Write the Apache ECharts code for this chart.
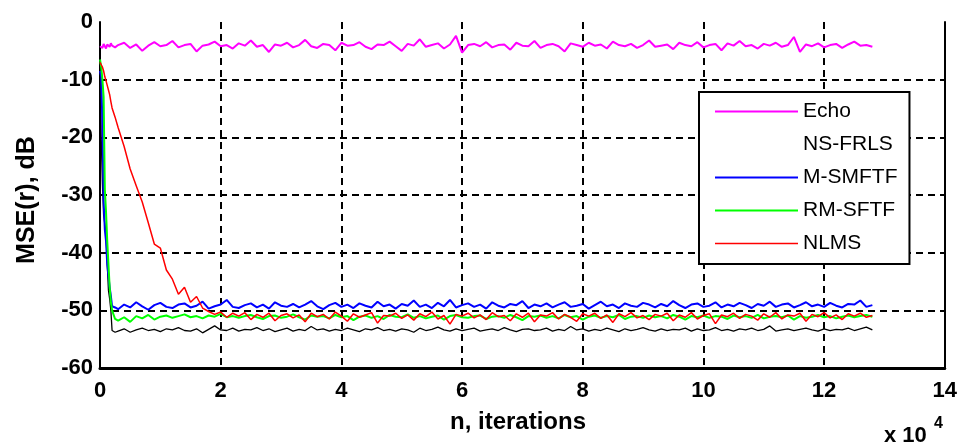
<!DOCTYPE html>
<html><head><meta charset="utf-8">
<script src="https://cdn.jsdelivr.net/npm/echarts@6/dist/echarts.min.js"></script>
<style>html,body{margin:0;padding:0;background:#fff}#c{width:960px;height:446px}</style>
</head><body><div id="c"></div>
<script>
// x positions, in units of 10^4 iterations
const iterations = [0,0.02,0.04,0.06,0.08,0.1,0.12,0.14,0.16,0.18,0.2,0.25,
0.3,0.4,0.5,0.6,0.7,0.8,0.9,1.0,1.1,1.2,
1.3,1.4,1.5,1.6,1.7,1.8,1.9,2.0,2.1,2.2,
2.3,2.4,2.5,2.6,2.7,2.8,2.9,3.0,3.1,3.2,
3.3,3.4,3.5,3.6,3.7,3.8,3.9,4.0,4.1,4.2,
4.3,4.4,4.5,4.6,4.7,4.8,4.9,5.0,5.1,5.2,
5.3,5.4,5.5,5.6,5.7,5.8,5.9,6.0,6.1,6.2,
6.3,6.4,6.5,6.6,6.7,6.8,6.9,7.0,7.1,7.2,
7.3,7.4,7.5,7.6,7.7,7.8,7.9,8.0,8.1,8.2,
8.3,8.4,8.5,8.6,8.7,8.8,8.9,9.0,9.1,9.2,
9.3,9.4,9.5,9.6,9.7,9.8,9.9,10.0,10.1,10.2,
10.3,10.4,10.5,10.6,10.7,10.8,10.9,11.0,11.1,11.2,
11.3,11.4,11.5,11.6,11.7,11.8,11.9,12.0,12.1,12.2,
12.3,12.4,12.5,12.6,12.7,12.8];

const echo = [-4.2,-4.0,-4.5,-3.8,-4.1,-4.6,-3.9,-4.0,-4.3,-3.7,-4.1,-4.4,
-4.0,-3.6,-4.5,-3.9,-5.0,-4.1,-3.5,-4.2,-4.0,-3.3,
-4.4,-4.0,-3.8,-5.1,-4.1,-3.9,-3.4,-4.2,-4.0,-4.6,
-3.7,-4.1,-3.2,-4.3,-4.0,-5.2,-3.9,-4.1,-3.6,-4.4,
-4.0,-3.1,-4.2,-4.5,-3.8,-4.0,-4.9,-3.6,-4.1,-4.0,
-3.5,-4.3,-4.7,-3.9,-4.0,-3.4,-4.2,-5.0,-3.8,-4.1,
-3.0,-4.3,-4.0,-3.7,-4.6,-3.9,-2.4,-5.3,-4.0,-3.8,
-4.2,-3.5,-4.4,-4.0,-3.9,-4.8,-3.6,-4.1,-4.2,-3.3,
-4.5,-4.0,-3.8,-4.2,-5.1,-3.7,-4.0,-4.3,-3.6,-4.1,
-3.9,-4.6,-3.4,-4.0,-4.2,-3.8,-4.5,-4.0,-3.2,-4.3,
-4.1,-3.9,-4.7,-3.6,-4.0,-4.2,-3.5,-4.4,-4.0,-3.8,
-4.9,-3.7,-4.1,-3.3,-4.2,-4.0,-4.6,-3.8,-4.1,-3.6,
-4.3,-4.0,-2.6,-5.2,-3.9,-4.2,-3.7,-4.4,-4.0,-3.8,
-4.5,-3.9,-3.4,-4.1,-4.0,-4.3];

const nsfrls = [-7.9,-20,-28,-33.5,-35,-36.6,-42,-46.5,-48,-50,-53.5,-53.8,
-53.6,-53.2,-53.8,-53.4,-53.1,-53.5,-53.3,-53.7,-53.2,-53.4,
-53.0,-53.5,-53.6,-53.2,-53.9,-53.3,-52.7,-53.4,-53.5,-53.1,
-53.6,-53.3,-53.4,-53.0,-53.5,-53.2,-53.7,-53.4,-53.1,-53.6,
-53.3,-53.5,-52.8,-53.4,-53.2,-53.6,-53.3,-53.5,-53.1,-53.4,
-53.7,-53.2,-53.4,-53.0,-53.5,-53.3,-53.6,-53.2,-53.4,-53.8,
-53.1,-53.5,-53.3,-52.9,-53.4,-53.6,-53.2,-53.5,-53.3,-53.1,
-53.6,-53.4,-53.2,-53.5,-53.0,-53.4,-53.7,-53.3,-53.2,-53.5,
-53.4,-53.1,-53.6,-53.3,-53.5,-52.8,-53.4,-53.2,-53.6,-53.3,
-53.5,-53.1,-53.4,-53.7,-53.2,-53.5,-53.3,-53.0,-53.4,-53.6,
-53.2,-53.5,-53.3,-53.4,-53.1,-53.6,-53.2,-53.5,-53.4,-53.0,
-53.5,-53.3,-53.6,-53.2,-53.4,-53.1,-53.5,-53.3,-52.7,-53.6,
-53.4,-53.2,-53.5,-53.3,-53.1,-53.4,-53.6,-53.2,-53.5,-53.3,
-53.4,-53.1,-53.5,-53.2,-52.9,-53.4];

const msmftf = [-8.5,-9.5,-17.5,-31,-36,-38,-42,-44,-46,-47.5,-49.3,-49.5,
-49.8,-49.0,-49.5,-48.6,-49.3,-49.9,-49.1,-48.7,-49.4,-49.6,
-49.0,-48.8,-49.5,-49.2,-48.5,-49.7,-49.3,-49.0,-48.2,-49.4,
-49.6,-49.1,-48.8,-49.5,-49.0,-49.7,-48.6,-49.2,-49.4,-48.9,
-49.5,-49.0,-48.4,-49.3,-49.8,-49.1,-48.7,-49.4,-49.0,-49.6,
-48.8,-49.2,-49.5,-48.5,-49.3,-49.0,-49.7,-48.9,-49.2,-48.3,
-49.4,-49.0,-49.6,-48.7,-49.3,-48.2,-49.5,-49.1,-48.8,-49.4,
-49.0,-49.7,-48.6,-49.2,-49.5,-48.9,-49.1,-48.4,-49.6,-49.0,
-49.3,-48.8,-49.5,-49.0,-48.6,-49.4,-49.2,-48.9,-49.7,-49.1,
-48.5,-49.3,-49.0,-49.6,-48.8,-49.2,-49.4,-48.7,-49.0,-49.5,
-48.9,-49.3,-48.4,-49.1,-49.6,-49.0,-48.8,-49.4,-49.2,-48.6,
-49.5,-49.0,-49.3,-48.7,-49.1,-49.6,-48.9,-49.2,-48.5,-49.4,
-49.0,-48.8,-49.5,-49.1,-48.6,-49.3,-49.0,-49.4,-48.7,-49.2,
-49.5,-48.9,-49.0,-48.3,-49.4,-49.1];

const rmsftf = [-6.5,-7.8,-10,-13,-29,-33,-38,-42,-46,-48.5,-50,-51.5,
-51.8,-51.2,-52.0,-51.0,-51.4,-50.8,-51.6,-51.1,-50.9,-51.3,
-51.0,-50.7,-51.2,-51.0,-51.4,-50.9,-51.1,-50.6,-51.2,-51.0,
-51.3,-51.0,-50.8,-51.2,-51.5,-51.0,-50.9,-51.3,-51.1,-50.7,
-51.2,-51.6,-50.9,-51.1,-51.0,-51.4,-50.8,-51.2,-51.0,-51.7,
-51.1,-50.9,-51.3,-51.0,-51.5,-50.8,-51.1,-51.2,-50.7,-51.3,
-51.0,-51.4,-51.1,-50.9,-51.6,-51.0,-50.8,-51.2,-51.3,-51.0,
-50.9,-51.5,-51.1,-51.0,-51.3,-50.8,-51.2,-51.7,-51.0,-51.1,
-50.9,-51.3,-51.0,-51.4,-50.8,-51.2,-51.0,-51.6,-51.1,-50.9,
-51.3,-51.0,-51.2,-50.8,-51.5,-51.1,-51.0,-51.3,-50.9,-51.2,
-51.0,-51.4,-50.8,-51.1,-51.6,-51.0,-51.2,-50.9,-51.3,-51.0,
-51.1,-51.5,-50.9,-51.2,-51.0,-51.3,-50.8,-51.4,-51.1,-51.0,
-51.2,-50.9,-51.6,-51.0,-51.3,-51.1,-50.8,-51.2,-51.0,-51.4,
-51.1,-50.9,-51.2,-51.0,-50.8,-51.1];

const nlms = [-7.0,-7.3,-7.8,-8.5,-9.5,-10.2,-11.0,-11.8,-12.6,-13.8,-14.9,-16.5,
-18.3,-21.6,-25.5,-28.4,-31.2,-34.8,-38.5,-39.2,-43.0,-44.6,
-47.2,-46.0,-48.6,-47.6,-49.6,-50.2,-50.7,-50.3,-51.2,-50.5,
-51.0,-50.4,-51.6,-50.7,-51.2,-50.5,-51.8,-50.9,-50.6,-51.3,
-50.8,-52.0,-50.5,-51.1,-50.7,-51.5,-50.3,-51.0,-51.9,-50.6,
-51.2,-50.8,-50.4,-52.2,-50.9,-51.0,-50.5,-51.4,-50.8,-51.7,
-50.6,-51.1,-50.3,-51.5,-50.9,-52.4,-50.7,-51.0,-50.5,-51.3,
-50.8,-51.6,-50.4,-51.1,-50.9,-51.8,-50.6,-51.2,-50.5,-52.0,
-50.8,-51.0,-50.4,-51.5,-50.7,-51.2,-51.9,-50.6,-51.0,-50.5,
-51.4,-50.8,-52.1,-50.6,-51.1,-50.4,-51.3,-50.9,-51.6,-50.7,
-51.0,-50.5,-51.8,-50.8,-51.2,-50.4,-51.5,-50.9,-50.6,-52.3,
-50.8,-51.1,-50.5,-51.4,-50.7,-51.0,-51.7,-50.6,-51.2,-50.4,
-51.5,-50.8,-51.0,-50.5,-51.9,-50.7,-51.1,-50.4,-51.3,-50.8,
-51.6,-50.6,-51.0,-50.5,-51.2,-50.9];

const seriesNames = ['Echo', 'NS-FRLS', 'M-SMFTF', 'RM-SFTF', 'NLMS'];
const yAxisTitle = 'MSE(r), dB';
const xAxisTitle = 'n, iterations';

function pairs(ys) { return iterations.map((x, i) => [x, ys[i]]); }

const chart = echarts.init(document.getElementById('c'), null, {renderer: 'canvas'});
const FONT = '"Liberation Sans", Arial, sans-serif';
const styles = [
  {color: '#ff00ff', width: 2},
  {color: '#000000', width: 1.3},
  {color: '#0000ff', width: 2},
  {color: '#00ff00', width: 2},
  {color: '#ff0000', width: 1.5}
];
const dataSets = [echo, nsfrls, msmftf, rmsftf, nlms];

chart.setOption({
  animation: false,
  backgroundColor: '#ffffff',
  grid: {left: 100, top: 22, width: 846, height: 346, containLabel: false},
  xAxis: {
    type: 'value', min: 0, max: 14, interval: 2,
    axisLine: {show: true, onZero: false, lineStyle: {color: '#000', width: 3}},
    axisTick: {show: false},
    axisLabel: {show: true, color: '#000', fontFamily: FONT, fontWeight: 'bold', fontSize: 22, margin: 12},
    splitLine: {show: true, showMinLine: false, showMaxLine: false, lineStyle: {color: '#000', width: 2, type: [7, 5]}}
  },
  yAxis: [{
    type: 'value', min: -60, max: 0, interval: 10,
    axisLine: {show: true, onZero: false, lineStyle: {color: '#000', width: 2}},
    axisTick: {show: false},
    axisLabel: {show: true, color: '#000', fontFamily: FONT, fontWeight: 'bold', fontSize: 22, margin: 7,
      formatter: v => String(v)},
    splitLine: {show: true, showMinLine: false, showMaxLine: false, lineStyle: {color: '#000', width: 2, type: [7, 5]}}
  }, {
    type: 'value', min: -60, max: 0, interval: 10, position: 'right',
    axisLine: {show: true, onZero: false, lineStyle: {color: '#000', width: 2}},
    axisTick: {show: false}, axisLabel: {show: false}, splitLine: {show: false}
  }],
  legend: {
    show: true, type: 'plain',
    orient: 'vertical', left: 699, top: 92,
    itemWidth: 83, itemHeight: 14, itemGap: 12,
    padding: [9, 12, 10, 15],
    backgroundColor: '#ffffff', borderColor: '#000', borderWidth: 2,
    selectedMode: false,
    itemStyle: {opacity: 0},
    textStyle: {fontFamily: FONT, fontSize: 21, color: '#000'},
    data: [
      {name: 'Echo', lineStyle: {color: '#ff00ff', width: 2, opacity: 1}, itemStyle: {opacity: 0}},
      {name: 'NS-FRLS', lineStyle: {opacity: 0}, itemStyle: {opacity: 0}},
      {name: 'M-SMFTF', lineStyle: {color: '#0000ff', width: 2, opacity: 1}, itemStyle: {opacity: 0}},
      {name: 'RM-SFTF', lineStyle: {color: '#00ff00', width: 2, opacity: 1}, itemStyle: {opacity: 0}},
      {name: 'NLMS', lineStyle: {color: '#ff0000', width: 1.5, opacity: 1}, itemStyle: {opacity: 0}}
    ]
  },
  series: seriesNames.map((n, i) => ({
    name: n, type: 'line', data: pairs(dataSets[i]),
    symbol: 'none', showSymbol: false, smooth: false,
    lineStyle: {color: styles[i].color, width: styles[i].width},
    itemStyle: {color: styles[i].color},
    emphasis: {disabled: true}
  })),
  graphic: [
    {type: 'text', x: 27, y: 200, rotation: Math.PI / 2,
      style: {text: yAxisTitle, font: 'bold 25px ' + FONT, fill: '#000', align: 'center', verticalAlign: 'middle'}},
    {type: 'text', x: 518, y: 422,
      style: {text: xAxisTitle, font: 'bold 24px ' + FONT, fill: '#000', align: 'center', verticalAlign: 'middle'}},
    {type: 'text', x: 884, y: 436,
      style: {text: 'x 10', font: 'bold 22px ' + FONT, fill: '#000', align: 'left', verticalAlign: 'middle'}},
    {type: 'text', x: 934, y: 424,
      style: {text: '4', font: 'bold 16px ' + FONT, fill: '#000', align: 'left', verticalAlign: 'middle'}}
  ]
});
</script></body></html>
